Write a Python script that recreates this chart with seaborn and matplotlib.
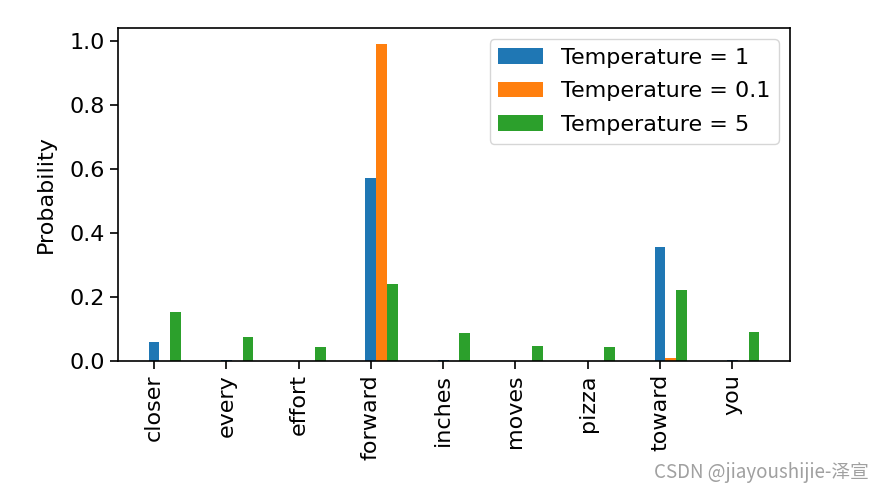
import numpy as np
import matplotlib
matplotlib.use("Agg")
import matplotlib.pyplot as plt
import seaborn as sns

# vocabulary and softmax probabilities at three temperatures
vocab = ['closer', 'every', 'effort', 'forward', 'inches', 'moves', 'pizza', 'toward', 'you']
temperatures = [1, 0.1, 5]
probs_t1 = [0.0609, 0.0016, 0.0001, 0.5721, 0.0034, 0.0001, 0.0001, 0.3576, 0.0040]
probs_t01 = [0.0000, 0.0000, 0.0000, 0.9910, 0.0000, 0.0000, 0.0000, 0.0090, 0.0000]
probs_t5 = [0.1546, 0.0750, 0.0429, 0.2420, 0.0869, 0.0454, 0.0430, 0.2203, 0.0898]

sns.set_style("ticks", {'text.color': 'black', 'axes.labelcolor': 'black',
                        'xtick.color': 'black', 'ytick.color': 'black',
                        'axes.edgecolor': 'black'})
plt.rcParams['font.family'] = ['DejaVu Sans']
plt.rcParams['font.size'] = 16

colors = sns.color_palette("tab10", 3)
x = np.arange(len(vocab))
bar_width = 0.15

fig = plt.figure(figsize=(8.82, 4.98), dpi=100)
ax = fig.add_axes([118 / 882, 1 - 361 / 498, 672 / 882, 333 / 498])

for i, (T, probs) in enumerate(zip(temperatures, [probs_t1, probs_t01, probs_t5])):
    ax.bar(x + i * bar_width, probs, bar_width, label=f'Temperature = {T}',
           color=colors[i], linewidth=0)

ax.set_ylabel('Probability', labelpad=10)
ax.set_xticks(x)
ax.set_xticklabels(vocab, rotation=90)
ax.legend(loc='upper right', labelspacing=0.6)
for s in ax.spines.values():
    s.set_linewidth(1.2)
ax.tick_params(width=1.2, length=6)

fig.text(0.985, 0.052, 'CSDN @jiayoushijie-泽宣', ha='right', va='center',
         fontsize=13.5, color='#a0a0a0', family=['Noto Sans CJK SC', 'DejaVu Sans'])

fig.savefig('out.png', dpi=100)
